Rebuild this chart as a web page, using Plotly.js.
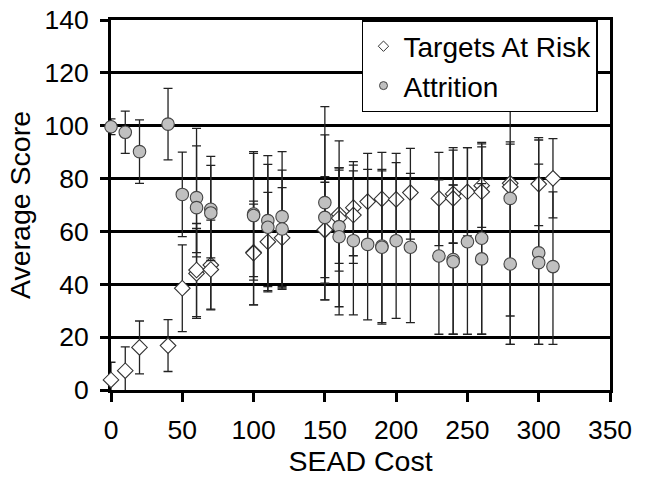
<!DOCTYPE html>
<html>
<head>
<meta charset="utf-8">
<script src="https://cdn.plot.ly/plotly-3.0.1.min.js"></script>
<style>html,body{margin:0;padding:0;background:#fff;}#chart{width:645px;height:482px;}</style>
</head>
<body>
<div id="chart"></div>
<script>
// Targets At Risk (diamonds)
const tarX  = [0,10,20,40,50,60,60,70,70,100,100,110,120,150,150,160,160,170,170,180,190,200,210,230,240,240,250,260,260,280,280,300,310];
const tarY  = [3.8,7.3,16.1,16.8,38.5,44.1,45.4,47.3,45.6,52.1,51.8,56.1,57.6,60.5,60.6,66.5,65,69,66.2,71.3,72.3,72.1,74.7,72.5,74.2,72.5,75,77.3,75,78.2,76.9,77.9,80.1];
const tarHi = [6.7,9,10,9.8,16.4,17,17.6,17,19.6,19.4,18.5,18.7,19,20.2,18,16.7,19.1,17.4,16.7,18.2,17.6,17.4,16.7,17.4,17.5,18.3,16.7,15.8,17,15.7,16.1,17.6,15];
const tarLo = [6.7,9,10,9.8,16.4,17,17.6,17,15,19.9,19.6,19,19,20.1,18.1,18.6,20,18.2,18.3,16,17.6,17,17.6,17.9,18.5,17,16.7,15.8,17,50.2,3,15.7,15];

// Attrition (circles)
const attX  = [0,10,20,40,50,60,60,70,70,100,100,110,110,120,120,150,150,160,160,170,180,190,190,200,210,230,240,240,250,260,260,280,280,300,300,310];
const attY  = [99.6,97.5,90.2,100.6,74,72.8,69,68.4,67,66.6,66,64.1,61.6,65.6,60.9,70.9,65.3,61.8,58,56.5,55.1,54.5,54,56.5,54,50.7,49.4,48.5,56.1,57.4,49.6,72.5,47.7,51.9,48.2,46.7];
const attHi = [3,8,12,13.5,16,26.2,23.4,20,18,23.6,23.5,24.6,23.8,24.6,22.3,36.3,31.2,32.5,26.1,28.6,28.4,29,28.9,29.5,28,28.8,28.2,29,35.6,36.3,28.5,50,26,33.6,46.4,28.3];
const attLo = [3,8,12,13.5,16,22.4,17,18.4,18,23.7,24.4,25,24,26.5,22.8,36.8,31.2,33.4,26.5,28.1,28.6,29,29.1,29.4,28.5,29.6,28.3,27.4,35,36.3,28.5,55.2,30.4,34.6,30.9,29.4];

const xTicks = [0,50,100,150,200,250,300,350];
const yTicks = [0,20,40,60,80,100,120,140];
const seriesNames = ['Targets At Risk','Attrition'];

const FONT = '"Liberation Sans", Arial, sans-serif';
const errStyle = {color:'#222', thickness:1.3, width:4.5};

const traces = [
  {
    type:'scatter', mode:'markers', x:tarX, y:tarY, name:seriesNames[0], showlegend:false, cliponaxis:false,
    marker:{symbol:'diamond', size:12, color:'#ffffff', line:{color:'#333', width:1.1}},
    error_y:Object.assign({type:'data', symmetric:false, array:tarHi, arrayminus:tarLo}, errStyle)
  },
  {
    type:'scatter', mode:'markers', x:attX, y:attY, name:seriesNames[1], showlegend:false, cliponaxis:false,
    marker:{symbol:'circle', size:12.5, color:'#c0c0c0', line:{color:'#444', width:1.1}},
    error_y:Object.assign({type:'data', symmetric:false, array:attHi, arrayminus:attLo}, errStyle)
  },
  {
    type:'scatter', mode:'markers', x:[null], y:[null], name:seriesNames[0], showlegend:true,
    marker:{symbol:'diamond', size:8, color:'#ffffff', line:{color:'#333', width:1}}
  },
  {
    type:'scatter', mode:'markers', x:[null], y:[null], name:seriesNames[1], showlegend:true,
    marker:{symbol:'circle', size:8, color:'#c0c0c0', line:{color:'#444', width:1}}
  }
];

const layout = {
  width:645, height:482,
  margin:{l:111, r:35, t:20, b:92},
  paper_bgcolor:'#fff', plot_bgcolor:'#fff',
  font:{family:FONT, size:26.5, color:'#000'},
  showlegend:true,
  legend:{x:0.503, y:1.0, xanchor:'left', yanchor:'top', bgcolor:'#fff',
          bordercolor:'#000', borderwidth:1.5, font:{family:FONT, size:28, color:'#000'},
          tracegroupgap:0, itemwidth:30},
  xaxis:{range:[0,350], tickmode:'array', tickvals:xTicks, ticktext:xTicks.map(String),
         showgrid:false, zeroline:false, showline:true, linecolor:'#000', linewidth:3, mirror:true,
         ticks:'outside', ticklen:9, tickwidth:3, tickcolor:'#000', ticklabelstandoff:5,
         layer:'below traces',
         title:{text:'SEAD Cost', font:{family:FONT, size:28.5}, standoff:6}},
  yaxis:{range:[0,140], tickmode:'array', tickvals:yTicks, ticktext:yTicks.map(String),
         showgrid:true, gridcolor:'#000', gridwidth:3, zeroline:false,
         showline:true, linecolor:'#000', linewidth:3, mirror:true,
         ticks:'outside', ticklen:8, tickwidth:3, tickcolor:'#000', ticklabelstandoff:6,
         layer:'below traces',
         title:{text:'Average Score', font:{family:FONT, size:28.5}, standoff:6}}
};

Plotly.newPlot('chart', traces, layout, {staticPlot:true, displayModeBar:false});
</script>
</body>
</html>
